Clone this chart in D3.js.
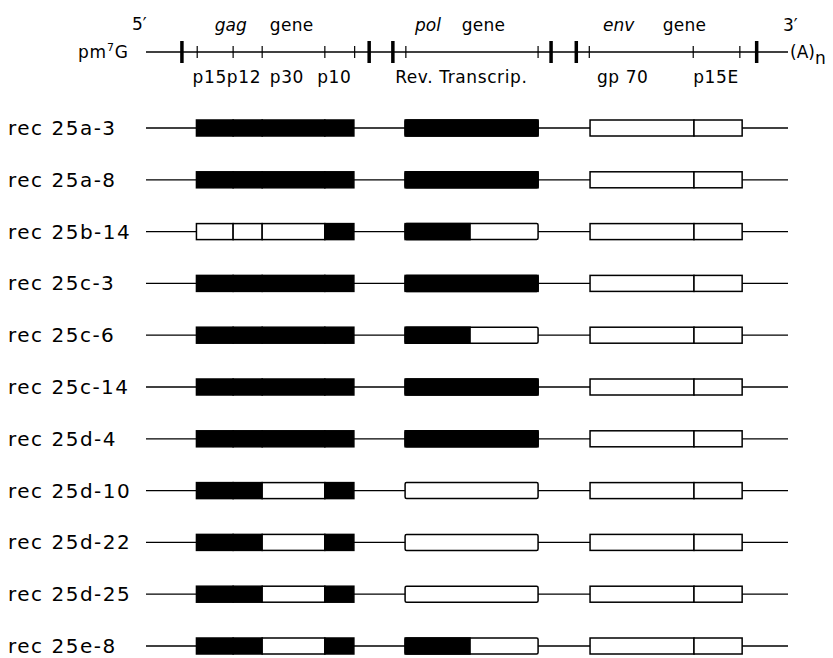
<!DOCTYPE html>
<html>
<head>
<meta charset="utf-8">
<script src="https://cdn.jsdelivr.net/npm/d3@7"></script>
<style>
  body { margin: 0; background: #fff; }
  svg { display: block; }
</style>
</head>
<body>
<div id="chart"></div>
<script>
// Genome map positions, in kb from the 5' end
const genomeLength = 8.4;
const thickTicks = [0.47, 2.92, 3.23, 5.30, 5.63, 7.99];
const thinTicks = [0.67, 1.14, 1.52, 2.34, 2.73, 3.40, 5.13, 5.80, 7.16, 7.77];

// gene names and the protein products labelled under the map
const genes = ["gag", "pol", "env"];
const products = ["p15p12", "p30", "p10", "Rev. Transcrip.", "gp 70", "p15E"];

// boxes drawn on every recombinant
const gagBounds = [0.66, 1.14, 1.52, 2.34, 2.72]; // p15 | p12 | p30 | p10
const polBounds = [3.39, 5.13];
const envBounds = [5.81, 7.17, 7.80]; // gp70 | p15E

const recombinants = [
  "rec 25a-3", "rec 25a-8", "rec 25b-14", "rec 25c-3", "rec 25c-6", "rec 25c-14",
  "rec 25d-4", "rec 25d-10", "rec 25d-22", "rec 25d-25", "rec 25e-8"
];

// 1 = black (parental), 0 = white, for p15, p12, p30, p10
const gagFill = [
  [1, 1, 1, 1], [1, 1, 1, 1], [0, 0, 0, 1], [1, 1, 1, 1], [1, 1, 1, 1], [1, 1, 1, 1],
  [1, 1, 1, 1], [1, 1, 0, 1], [1, 1, 0, 1], [1, 1, 0, 1], [1, 1, 0, 1]
];

// end of the black part of pol (kb); equal to pol start = no black
const polBlackEnd = [5.13, 5.13, 4.24, 5.13, 4.24, 5.13, 5.13, 3.39, 3.39, 3.39, 4.24];

// env is white in every recombinant
const envFill = recombinants.map(() => [0, 0]);

// Layout
const width = 833;
const height = 658;
const mapY = 52;
const boxH = 16;
const font = "'DejaVu Sans', sans-serif";

const x = d3.scaleLinear([0, genomeLength], [146, 788]);
const y = d3.scalePoint(recombinants, [128, 646]);

// where header texts start, in kb
const geneAt = [0.90, 3.52, 5.98];
const geneWordAt = [1.62, 4.13, 6.76];
const productAt = [0.61, 1.62, 2.24, 3.26, 5.90, 7.16];

const svg = d3.select("#chart").append("svg")
  .attr("width", width)
  .attr("height", height)
  .attr("viewBox", [0, 0, width, height]);

// ---- header map ----
const head = svg.append("g")
  .style("font-family", font)
  .style("font-size", "17px");

head.append("line")
  .attr("x1", x(0)).attr("x2", x(genomeLength))
  .attr("y1", mapY).attr("y2", mapY)
  .attr("stroke", "#000").attr("stroke-width", 1.3);

head.selectAll(".thin").data(thinTicks).join("line")
  .attr("class", "thin")
  .attr("x1", d => x(d)).attr("x2", d => x(d))
  .attr("y1", mapY - 6).attr("y2", mapY + 6)
  .attr("stroke", "#000").attr("stroke-width", 1.2);

head.selectAll(".thick").data(thickTicks).join("line")
  .attr("class", "thick")
  .attr("x1", d => x(d)).attr("x2", d => x(d))
  .attr("y1", mapY - 11).attr("y2", mapY + 11)
  .attr("stroke", "#000").attr("stroke-width", 3.5);

head.selectAll(".gene").data(genes).join("text")
  .attr("class", "gene")
  .attr("x", (d, i) => x(geneAt[i]))
  .attr("y", 31)
  .style("font-style", "italic")
  .text(d => d);

head.selectAll(".geneword").data(genes).join("text")
  .attr("class", "geneword")
  .attr("x", (d, i) => x(geneWordAt[i]))
  .attr("y", 31)
  .style("letter-spacing", "0.3px")
  .text("gene");

head.selectAll(".product").data(products).join("text")
  .attr("class", "product")
  .attr("x", (d, i) => x(productAt[i]))
  .attr("y", 83)
  .style("letter-spacing", "0.6px")
  .text(d => d);

head.append("text").attr("x", 132).attr("y", 30).text("5\u2032");
head.append("text").attr("x", 783).attr("y", 31).text("3\u2032");

const cap = head.append("text").attr("x", 78).attr("y", 58).style("letter-spacing", "0.8px");
cap.append("tspan").text("pm");
cap.append("tspan").attr("dy", -7).style("font-size", "11px").text("7");
cap.append("tspan").attr("dy", 7).text("G");

const tail = head.append("text").attr("x", 790).attr("y", 58);
tail.append("tspan").text("(A)");
tail.append("tspan").attr("dy", 6).text("n");

// ---- recombinant rows ----
const rows = svg.append("g")
  .selectAll("g")
  .data(recombinants)
  .join("g")
  .attr("transform", d => `translate(0,${y(d)})`);

rows.append("text")
  .attr("x", 8)
  .attr("y", 7)
  .style("font-family", font)
  .style("font-size", "20px")
  .style("letter-spacing", "1.5px")
  .text(d => d);

rows.append("line")
  .attr("x1", x(0)).attr("x2", x(genomeLength))
  .attr("stroke", "#000").attr("stroke-width", 1.3);

function segments(bounds, fills) {
  return d3.pairs(bounds).map(([a, b], i) => ({a, b, fill: fills[i]}));
}

function drawSegs(g, cls, getSegs) {
  g.selectAll("." + cls).data(getSegs).join("rect")
    .attr("class", cls)
    .attr("x", d => x(d.a))
    .attr("width", d => x(d.b) - x(d.a))
    .attr("y", -boxH / 2)
    .attr("height", boxH)
    .attr("fill", d => d.fill ? "#000" : "#fff")
    .attr("stroke", "#000")
    .attr("stroke-width", 1.5);
}

// gag
drawSegs(rows, "gag", (d, i) => segments(gagBounds, gagFill[i]));

// pol: white box with a black 5' part
rows.append("rect")
  .attr("x", x(polBounds[0]))
  .attr("width", x(polBounds[1]) - x(polBounds[0]))
  .attr("y", -boxH / 2).attr("height", boxH)
  .attr("rx", 1.5)
  .attr("fill", "#fff").attr("stroke", "#000").attr("stroke-width", 1.5);

rows.append("rect")
  .attr("x", x(polBounds[0]))
  .attr("width", (d, i) => x(polBlackEnd[i]) - x(polBounds[0]))
  .attr("y", -boxH / 2).attr("height", boxH)
  .attr("fill", "#000").attr("stroke", "#000").attr("stroke-width", 1.5)
  .attr("display", (d, i) => polBlackEnd[i] > polBounds[0] ? null : "none");

// env
drawSegs(rows, "env", (d, i) => segments(envBounds, envFill[i]));
</script>
</body>
</html>
